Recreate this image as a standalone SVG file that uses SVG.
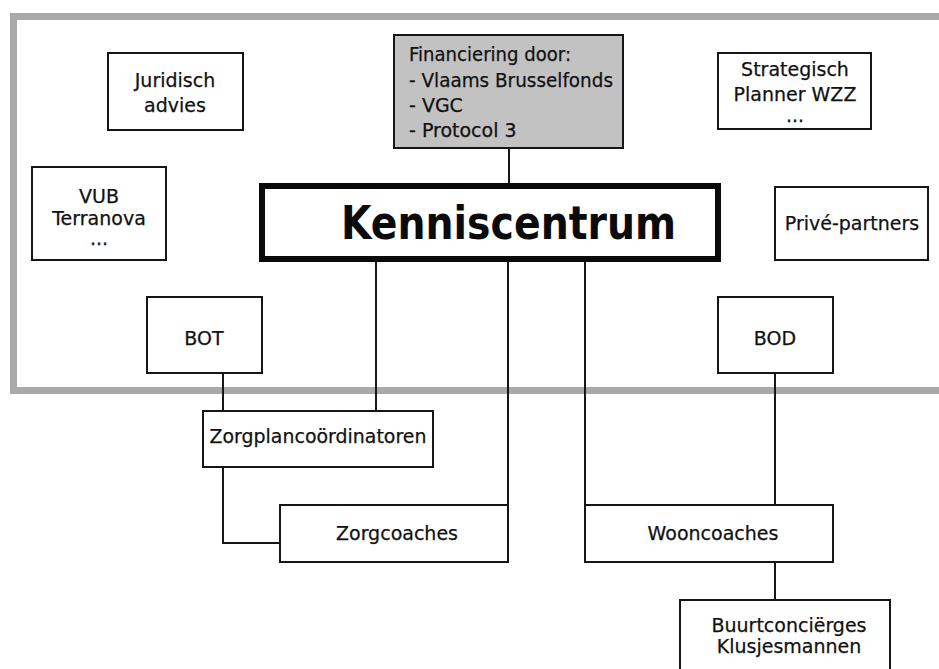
<svg xmlns="http://www.w3.org/2000/svg" width="939" height="669" viewBox="0 0 939 669">
  <style>
    .box { fill: #ffffff; stroke: #161616; stroke-width: 2; }
    .fin { fill: #c2c2c2; stroke: #161616; stroke-width: 2; }
    .main { fill: #ffffff; stroke: #0a0a0a; stroke-width: 6; }
    .lbl { font-family: "DejaVu Sans", "Liberation Sans", sans-serif; font-size: 19px; fill: #111111; stroke: #111111; stroke-width: 0.25; text-anchor: middle; }
    .lft { text-anchor: start; }
    .big { font-family: "DejaVu Sans", "Liberation Sans", sans-serif; font-size: 46px; font-weight: bold; fill: #0a0a0a; }
    .frame { fill: #a9a9a9; }
    .conn path { fill: none; stroke: #161616; stroke-width: 2; }
  </style>
  <rect x="0" y="0" width="939" height="669" fill="#ffffff"/>
  <g id="frame">
    <rect class="frame" x="10" y="13" width="929" height="7"/>
    <rect class="frame" x="10" y="13" width="7" height="381"/>
    <rect class="frame" x="10" y="387" width="929" height="7"/>
  </g>
  <g id="connectors" class="conn">
    <path d="M509,148 V184"/>
    <path d="M376,262 V411"/>
    <path d="M508,262 V505"/>
    <path d="M585,262 V505"/>
    <path d="M223,373 V411"/>
    <path d="M775,373 V505"/>
    <path d="M223,467 V543 H280"/>
    <path d="M775,562 V600"/>
  </g>
  <g id="juridisch">
    <rect class="box" x="108" y="53" width="135" height="77"/>
    <text class="lbl" x="175" y="87">Juridisch</text>
    <text class="lbl" x="175" y="112">advies</text>
  </g>
  <g id="financiering">
    <rect class="fin" x="394" y="35" width="229" height="113"/>
    <text class="lbl lft" x="409" y="61" textLength="162" lengthAdjust="spacingAndGlyphs">Financiering door:</text>
    <text class="lbl lft" x="409" y="87" textLength="204" lengthAdjust="spacingAndGlyphs">- Vlaams Brusselfonds</text>
    <text class="lbl lft" x="409" y="112">- VGC</text>
    <text class="lbl lft" x="409" y="137">- Protocol 3</text>
  </g>
  <g id="strategisch">
    <rect class="box" x="718" y="53" width="153" height="76"/>
    <text class="lbl" x="795" y="76">Strategisch</text>
    <text class="lbl" x="795" y="101">Planner WZZ</text>
    <text class="lbl" x="795" y="122">...</text>
  </g>
  <g id="vub">
    <rect class="box" x="32" y="167" width="134" height="93"/>
    <text class="lbl" x="99" y="203">VUB</text>
    <text class="lbl" x="99" y="225">Terranova</text>
    <text class="lbl" x="99" y="245">...</text>
  </g>
  <g id="kenniscentrum">
    <rect class="main" x="262" y="186" width="456" height="73"/>
    <text class="big" x="341" y="239" textLength="335" lengthAdjust="spacingAndGlyphs">Kenniscentrum</text>
  </g>
  <g id="prive">
    <rect class="box" x="775" y="187" width="153" height="73"/>
    <text class="lbl" x="852" y="230">Privé-partners</text>
  </g>
  <g id="bot">
    <rect class="box" x="147" y="297" width="115" height="76"/>
    <text class="lbl" x="204" y="345">BOT</text>
  </g>
  <g id="bod">
    <rect class="box" x="718" y="297" width="115" height="76"/>
    <text class="lbl" x="775" y="345">BOD</text>
  </g>
  <g id="zorgplan">
    <rect class="box" x="203" y="411" width="230" height="56"/>
    <text class="lbl" x="318" y="443" textLength="217" lengthAdjust="spacingAndGlyphs">Zorgplancoördinatoren</text>
  </g>
  <g id="zorgcoaches">
    <rect class="box" x="280" y="505" width="228" height="57"/>
    <text class="lbl" x="397" y="540">Zorgcoaches</text>
  </g>
  <g id="wooncoaches">
    <rect class="box" x="585" y="505" width="248" height="57"/>
    <text class="lbl" x="713" y="540">Wooncoaches</text>
  </g>
  <g id="buurt">
    <rect class="box" x="680" y="600" width="210" height="80"/>
    <text class="lbl" x="789" y="632">Buurtconciërges</text>
    <text class="lbl" x="789" y="653">Klusjesmannen</text>
  </g>
</svg>
